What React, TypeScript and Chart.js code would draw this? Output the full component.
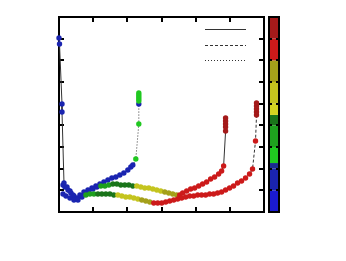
import React, { useEffect, useRef } from "react";
import { Chart, registerables } from "chart.js";
Chart.register(...registerables);

// ---- data ----
const dottedX = [0.117, 0.175, 0.263, 0.35, 0.438, 0.526, 0.613, 0.73, 0.847, 0.964, 1.08, 1.197, 1.314, 1.431, 1.547, 1.664, 1.781, 1.898, 2.015, 2.102, 2.161, 2.248, 2.336, 2.336, 2.336, 2.336, 2.336, 2.336, 2.336];
const dottedY = [1.246, 1.154, 1.015, 0.877, 0.738, 0.646, 0.785, 0.923, 1.015, 1.108, 1.2, 1.292, 1.384, 1.477, 1.569, 1.615, 1.707, 1.8, 1.938, 2.077, 2.169, 2.446, 4.061, 4.984, 5.122, 5.215, 5.307, 5.399, 5.492];
const dottedC = [1.5, 1.5, 1.5, 1.5, 1.5, 1.5, 1.5, 1.5, 1.5, 1.5, 1.5, 1.5, 1.5, 1.5, 1.5, 1.5, 1.5, 1.5, 1.5, 1.5, 1.5, 2.5, 2.5, 1.5, 2.5, 2.5, 2.5, 2.5, 2.5];

const solidX = [0, 0.015, 0.088, 0.088, 0.146, 0.234, 0.321, 0.409, 0.526, 0.642, 0.759, 0.876, 0.993, 1.109, 1.226, 1.343, 1.46, 1.577, 1.693, 1.81, 1.927, 2.044, 2.161, 2.277, 2.394, 2.511, 2.628, 2.745, 2.861, 2.978, 3.095, 3.212, 3.328, 3.445, 3.533, 3.62, 3.737, 3.854, 3.971, 4.088, 4.204, 4.321, 4.438, 4.555, 4.672, 4.759, 4.818, 4.876, 4.876, 4.876, 4.876, 4.876];
const solidY = [8.03, 7.752, 4.984, 4.615, 1.338, 1.154, 0.969, 0.785, 0.6, 0.738, 0.877, 0.969, 1.061, 1.154, 1.2, 1.2, 1.246, 1.292, 1.292, 1.246, 1.246, 1.246, 1.2, 1.2, 1.154, 1.108, 1.108, 1.061, 1.015, 0.969, 0.923, 0.877, 0.831, 0.785, 0.785, 0.877, 0.969, 1.061, 1.108, 1.2, 1.292, 1.384, 1.523, 1.615, 1.754, 1.892, 2.123, 3.738, 3.922, 4.061, 4.199, 4.338];
const solidC = [1.5, 1.5, 1.5, 1.5, 1.5, 1.5, 1.5, 1.5, 1.5, 1.5, 1.5, 1.5, 1.5, 1.5, 3.5, 3.5, 3.5, 4.2, 4.2, 4.2, 4.2, 4.2, 4.2, 5.5, 5.5, 5.5, 5.5, 5.5, 5.5, 5.5, 6.5, 6.5, 6.5, 6.5, 7.5, 7.5, 7.5, 7.5, 7.5, 7.5, 7.5, 7.5, 7.5, 7.5, 7.5, 7.5, 7.5, 8.5, 8.5, 8.5, 8.5, 8.5];

const dashedX = [0.117, 0.204, 0.321, 0.438, 0.555, 0.672, 0.788, 0.905, 1.022, 1.139, 1.255, 1.372, 1.489, 1.606, 1.723, 1.839, 1.956, 2.073, 2.19, 2.307, 2.423, 2.54, 2.657, 2.774, 2.891, 3.007, 3.124, 3.241, 3.358, 3.474, 3.591, 3.708, 3.825, 3.942, 4.058, 4.175, 4.292, 4.409, 4.526, 4.642, 4.759, 4.876, 4.993, 5.109, 5.226, 5.343, 5.46, 5.577, 5.664, 5.752, 5.781, 5.781, 5.781, 5.781, 5.781];
const dashedY = [0.831, 0.738, 0.646, 0.554, 0.554, 0.692, 0.785, 0.831, 0.831, 0.831, 0.831, 0.831, 0.831, 0.785, 0.785, 0.738, 0.692, 0.692, 0.646, 0.6, 0.554, 0.508, 0.461, 0.415, 0.415, 0.415, 0.461, 0.508, 0.554, 0.6, 0.646, 0.692, 0.738, 0.738, 0.785, 0.785, 0.785, 0.831, 0.831, 0.877, 0.923, 1.015, 1.108, 1.2, 1.338, 1.431, 1.569, 1.754, 1.984, 3.276, 4.476, 4.615, 4.753, 4.892, 5.03];
const dashedC = [1.5, 1.5, 1.5, 1.5, 1.5, 1.5, 3.5, 3.5, 3.5, 4.2, 4.2, 4.2, 4.2, 4.2, 5.5, 5.5, 5.5, 5.5, 5.5, 5.5, 6.5, 6.5, 6.5, 7.5, 7.5, 7.5, 7.5, 7.5, 7.5, 7.5, 7.5, 7.5, 7.5, 7.5, 7.5, 7.5, 7.5, 7.5, 7.5, 7.5, 7.5, 7.5, 7.5, 7.5, 7.5, 7.5, 7.5, 7.5, 7.5, 7.5, 8.5, 8.5, 8.5, 8.5, 8.5];

const xTickValues = [0, 1, 2, 3, 4, 5, 6];
const yTickValues = [0, 1, 2, 3, 4, 5, 6, 7, 8, 9];
const cbEdges = [0, 1, 2, 2.26, 3, 4, 4.48, 5, 6, 7, 8, 9];
const cbColors = ["#1a1ad0", "#1a24b0", "#1a2a90", "#20c820", "#1ea01e", "#1a741a", "#d4d420", "#c4c41e", "#a4a01a", "#cc1a1a", "#a41a1a"];

function colorFor(v: number): string {
  for (let i = 0; i < cbColors.length; i++) {
    if (v >= cbEdges[i] && v < cbEdges[i + 1]) return cbColors[i];
  }
  return cbColors[cbColors.length - 1];
}

function pts(xs: number[], ys: number[]) {
  return xs.map((x, i) => ({ x, y: ys[i] }));
}

const decor = {
  id: "decor",
  beforeDatasetsDraw(chart: any) {
    const { ctx, chartArea: a, scales } = chart;
    const xs = scales.x;
    const ys = scales.y;
    ctx.save();
    ctx.strokeStyle = "#000";
    ctx.lineWidth = 2;
    ctx.strokeRect(a.left, a.top, a.right - a.left, a.bottom - a.top);
    ctx.beginPath();
    xTickValues.forEach((v) => {
      if (v === xs.min || v === xs.max) return;
      const px = Math.round(xs.getPixelForValue(v));
      ctx.moveTo(px, a.bottom);
      ctx.lineTo(px, a.bottom - 5);
      ctx.moveTo(px, a.top);
      ctx.lineTo(px, a.top + 5);
    });
    yTickValues.forEach((v) => {
      if (v === ys.min || v === ys.max) return;
      const py = Math.round(ys.getPixelForValue(v));
      ctx.moveTo(a.left, py);
      ctx.lineTo(a.left + 5, py);
      ctx.moveTo(a.right, py);
      ctx.lineTo(a.right - 5, py);
    });
    ctx.stroke();
    // colorbar
    const cbL = a.right + 5;
    const cbW = 10;
    for (let i = 0; i < cbColors.length; i++) {
      const y1 = ys.getPixelForValue(cbEdges[i + 1]);
      const y0 = ys.getPixelForValue(cbEdges[i]);
      ctx.fillStyle = cbColors[i];
      ctx.fillRect(cbL, y1, cbW, y0 - y1);
    }
    ctx.strokeStyle = "#000";
    ctx.lineWidth = 2;
    ctx.strokeRect(cbL, a.top, cbW, a.bottom - a.top);
    ctx.beginPath();
    yTickValues.forEach((v) => {
      if (v === ys.min || v === ys.max) return;
      const py = Math.round(ys.getPixelForValue(v));
      ctx.moveTo(cbL, py);
      ctx.lineTo(cbL + 3, py);
      ctx.moveTo(cbL + cbW, py);
      ctx.lineTo(cbL + cbW - 3, py);
    });
    ctx.stroke();
    // legend samples
    const dashes = [[], [3, 2], [1, 2]];
    ctx.strokeStyle = "#333";
    ctx.lineWidth = 1;
    dashes.forEach((d, i) => {
      const y = Math.round(a.top + 12 + i * 15.5) + 0.5;
      ctx.setLineDash(d);
      ctx.beginPath();
      ctx.moveTo(a.right - 59, y);
      ctx.lineTo(a.right - 18, y);
      ctx.stroke();
    });
    ctx.setLineDash([]);
    ctx.restore();
  },
};

function makeDataset(xs: number[], ys: number[], cs: number[], dash: number[]) {
  const colors = cs.map(colorFor);
  return {
    data: pts(xs, ys),
    showLine: true,
    borderColor: "#333",
    borderWidth: 1,
    borderDash: dash,
    pointRadius: 2.7,
    pointBorderWidth: 0,
    pointBackgroundColor: colors,
    pointBorderColor: colors,
    clip: false as any,
  };
}

export default function App() {
  const ref = useRef<HTMLCanvasElement | null>(null);
  useEffect(() => {
    if (!ref.current) return;
    const chart = new Chart(ref.current, {
      type: "scatter",
      data: {
        datasets: [
          makeDataset(dashedX, dashedY, dashedC, [3, 2]),
          makeDataset(solidX, solidY, solidC, []),
          makeDataset(dottedX, dottedY, dottedC, [1, 2]),
        ] as any,
      },
      options: {
        animation: false,
        responsive: false,
        devicePixelRatio: 1,
        layout: { padding: { left: 59, top: 17, right: 82, bottom: 49 } },
        plugins: { legend: { display: false }, tooltip: { enabled: false } },
        scales: {
          x: { type: "linear", min: 0, max: 6, display: false },
          y: { type: "linear", min: 0, max: 9, display: false },
        },
      },
      plugins: [decor],
    });
    return () => chart.destroy();
  }, []);
  return (
    <div style={{ position: "absolute", left: 0, top: 0, width: 346, height: 261, background: "#fff" }}>
      <canvas ref={ref} width={346} height={261} />
    </div>
  );
}
